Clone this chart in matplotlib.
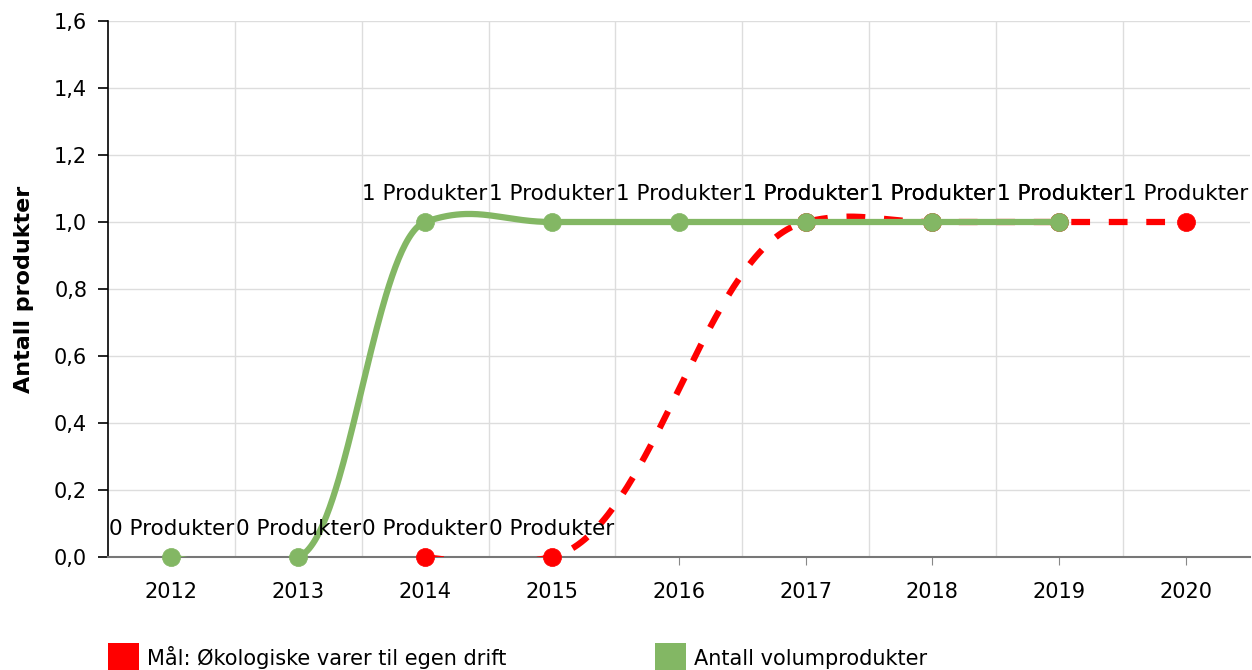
import numpy as np
import matplotlib
matplotlib.use("Agg")
import matplotlib.pyplot as plt
from matplotlib.patches import Rectangle

# data
years = [2012, 2013, 2014, 2015, 2016, 2017, 2018, 2019, 2020]
goal_years = [2014, 2015, 2017, 2018, 2019, 2020]
goal_vals = [0, 0, 1, 1, 1, 1]
volume_years = [2012, 2013, 2014, 2015, 2016, 2017, 2018, 2019]
volume_vals = [0, 0, 1, 1, 1, 1, 1, 1]
legend_labels = ["Mål: Økologiske varer til egen drift", "Antall volumprodukter"]
y_ticks = [0.0, 0.2, 0.4, 0.6, 0.8, 1.0, 1.2, 1.4, 1.6]

RED = "#ff0000"
GREEN = "#83b764"
FS = 15


def spline(xs, ys, k=0.27, n=80):
    # bezier spline, control points 0.4 of the way to the neighbours
    xs = np.asarray(xs, float)
    ys = np.asarray(ys, float)
    m = np.zeros(len(xs))
    for i in range(1, len(xs) - 1):
        m[i] = k * (ys[i + 1] - ys[i - 1]) / (xs[i + 1] - xs[i - 1])
    px, py = [], []
    for i in range(len(xs) - 1):
        d = xs[i + 1] - xs[i]
        c1 = (xs[i] + 0.4 * d, ys[i] + m[i] * 0.4 * d) if i > 0 else (xs[i], ys[i])
        last = i + 1 == len(xs) - 1
        c2 = (xs[i + 1] - 0.4 * d, ys[i + 1] - m[i + 1] * 0.4 * d) if not last else (xs[i + 1], ys[i + 1])
        t = np.linspace(0, 1, n)
        a, b, c, e = (1 - t) ** 3, 3 * (1 - t) ** 2 * t, 3 * (1 - t) * t ** 2, t ** 3
        px.extend(a * xs[i] + b * c1[0] + c * c2[0] + e * xs[i + 1])
        py.extend(a * ys[i] + b * c1[1] + c * c2[1] + e * ys[i + 1])
    return px, py


fig = plt.figure(figsize=(12.52, 6.70), dpi=100)
ax = fig.add_axes([108 / 1252, 113 / 670, 1141.5 / 1252, 536 / 670])

for xs, ys, col, ls in [(goal_years, goal_vals, RED, (0, (3, 3))),
                        (volume_years, volume_vals, GREEN, "-")]:
    sx, sy = spline(xs, ys)
    ax.plot(sx, sy, color=col, lw=4.5, ls=ls, solid_capstyle="butt", zorder=3)
    ax.plot(xs, ys, "o", color=col, ms=13, mec=col, mew=0.5, zorder=3, clip_on=False)
    for x, y in zip(xs, ys):
        ax.annotate(f"{y} Produkter", (x, y), xytext=(0, 22), textcoords="offset pixels",
                    ha="center", va="baseline", fontsize=15.5, clip_on=True, zorder=6)

ax.set_xlim(2011.5, 2020.5)
ax.set_ylim(0, 1.6)
ax.set_xticks(years)
ax.set_xticklabels([str(y) for y in years], fontsize=FS)
ax.set_yticks(y_ticks)
ax.set_yticklabels([f"{v:.1f}".replace(".", ",") for v in y_ticks], fontsize=FS)
ax.set_xticks([y + 0.5 for y in years[:-1]], minor=True)
ax.grid(True, which="major", axis="y", color="#dddddd", lw=1)
ax.grid(True, which="minor", axis="x", color="#dddddd", lw=1)
ax.set_axisbelow(True)
ax.tick_params(axis="x", which="major", length=6, color="#888888", pad=12)
ax.tick_params(axis="x", which="minor", length=0)
ax.tick_params(axis="y", length=7, color="black", width=1.2, pad=8)
for s in ["top", "right"]:
    ax.spines[s].set_visible(False)
ax.spines["left"].set_color("black")
ax.spines["left"].set_linewidth(1.2)
ax.spines["bottom"].set_color("#777777")
ax.spines["bottom"].set_linewidth(1.5)
ax.set_ylabel("Antall produkter", fontsize=16, fontweight="bold", labelpad=14)

# legend along the bottom
for lx, col, lab in [(108, RED, legend_labels[0]), (655, GREEN, legend_labels[1])]:
    fig.add_artist(Rectangle((lx / 1252, 0), 31 / 1252, 27 / 670, transform=fig.transFigure,
                             color=col, lw=0))
    fig.text((lx + 39) / 1252, 5 / 670, lab, fontsize=FS, va="baseline")

fig.savefig("out.png", dpi=100)
